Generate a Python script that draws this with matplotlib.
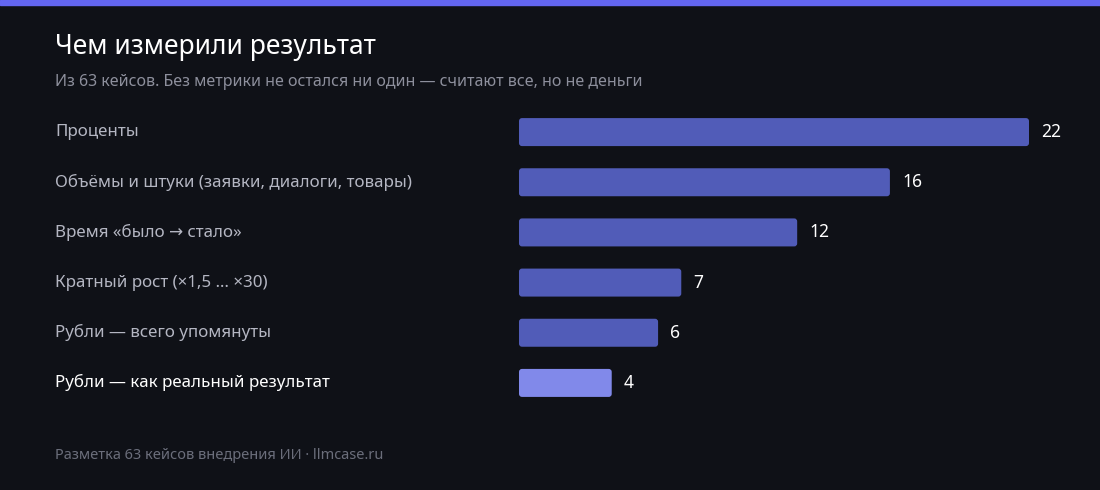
import matplotlib.pyplot as plt
from matplotlib.patches import FancyBboxPatch, Rectangle

categories = [
    "Проценты",
    "Объёмы и штуки (заявки, диалоги, товары)",
    "Время «было → стало»",
    "Кратный рост (×1,5 … ×30)",
    "Рубли — всего упомянуты",
    "Рубли — как реальный результат",
]
values = [22, 16, 12, 7, 6, 4]
highlight = 5

BG = "#0f1117"
BAR = "#515cb8"
BAR_HI = "#8189ea"

plt.rcParams["font.family"] = ["Noto Sans", "DejaVu Sans"]

W, H = 1100, 490
fig = plt.figure(figsize=(W / 100, H / 100), dpi=100, facecolor=BG)

# top stripe
fig.patches.append(Rectangle((0, 1 - 5 / H), 1, 5 / H, transform=fig.transFigure,
                             color="#6366f1", zorder=5))

fig.text(55 / W, 1 - 47 / H, "Чем измерили результат", color="white",
         fontsize=19, fontweight="bold", va="center", ha="left")
fig.text(55 / W, 1 - 82 / H,
         "Из 63 кейсов. Без метрики не остался ни один — считают все, но не деньги",
         color="#8d8f9c", fontsize=11.5, va="center", ha="left")
fig.text(55 / W, 1 - 455 / H, "Разметка 63 кейсов внедрения ИИ · llmcase.ru",
         color="#6b6e7b", fontsize=10.5, va="center", ha="left")

x0, x1 = 519, 1029
y_top, y_bot = 107, 408
ax = fig.add_axes([x0 / W, 1 - y_bot / H, (x1 - x0) / W, (y_bot - y_top) / H])
ax.set_facecolor(BG)
ax.set_xlim(0, max(values))
ax.set_ylim(len(values) - 0.5, -0.5)
ax.axis("off")

px_x = (x1 - x0) / max(values)
px_y = (y_bot - y_top) / len(values)
bh = 28 / px_y
for i, (cat, v) in enumerate(zip(categories, values)):
    col = BAR_HI if i == highlight else BAR
    ax.add_patch(FancyBboxPatch((0, i - bh / 2), v, bh,
                                boxstyle=f"round,pad=0,rounding_size={3 / px_x}",
                                mutation_aspect=px_x / px_y,
                                facecolor=col, edgecolor="none"))
    ax.text(v + 12 / px_x, i, str(v), color="white", fontsize=12.5,
            fontweight="bold", va="center", ha="left")
    fig.text(55 / W, 1 - (y_top + (i + 0.5) * px_y) / H, cat,
             color="white" if i == highlight else "#b4b6c2",
             fontsize=12.2, fontweight="bold" if i == highlight else "normal",
             va="center", ha="left")

fig.savefig("out.png", dpi=100, facecolor=BG)
